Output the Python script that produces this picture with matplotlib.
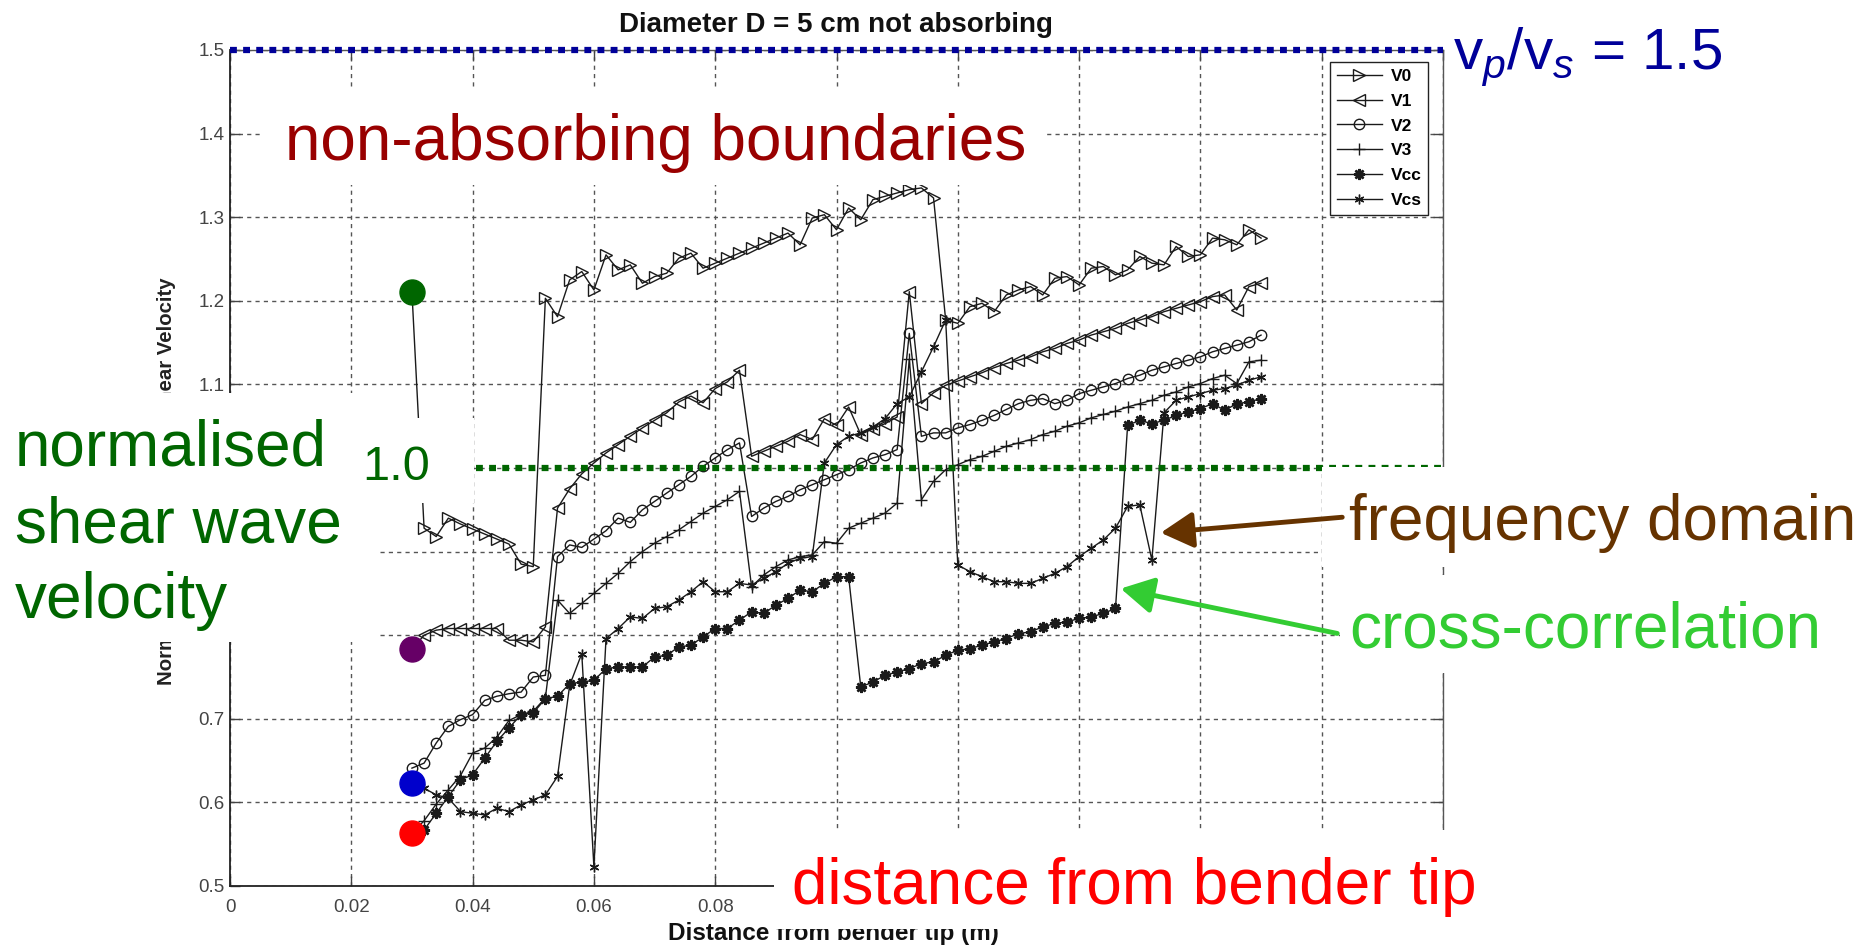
import matplotlib
matplotlib.use('Agg')
import matplotlib.pyplot as plt
import numpy as np
from matplotlib.patches import Rectangle, FancyArrowPatch

plt.rcParams['font.family'] = ['Liberation Sans', 'DejaVu Sans']
plt.rcParams['mathtext.fontset'] = 'custom'
plt.rcParams['mathtext.rm'] = 'Liberation Sans'
plt.rcParams['mathtext.it'] = 'Liberation Sans:italic'

W, H = 1875, 946

# distance from bender tip (m), one reading every 2 mm from 30 mm to 170 mm
dist = np.linspace(0.030, 0.170, 71)

V0 = [1.210, 0.928, 0.918, 0.940, 0.933, 0.927, 0.921, 0.915, 0.909, 0.885,
      0.882, 1.203, 1.181, 1.225, 1.235, 1.213, 1.255, 1.237, 1.243, 1.221,
      1.229, 1.233, 1.251, 1.257, 1.239, 1.245, 1.251, 1.257, 1.263, 1.269,
      1.275, 1.281, 1.267, 1.299, 1.303, 1.285, 1.311, 1.297, 1.321, 1.325,
      1.329, 1.333, 1.335, 1.323, 1.177, 1.173, 1.193, 1.197, 1.187, 1.207,
      1.213, 1.217, 1.207, 1.227, 1.229, 1.219, 1.239, 1.241, 1.231, 1.237,
      1.253, 1.245, 1.243, 1.265, 1.253, 1.255, 1.275, 1.273, 1.267, 1.285,
      1.275]
V1 = [0.783, 0.800, 0.806, 0.808, 0.808, 0.808, 0.808, 0.808, 0.794, 0.794,
      0.792, 0.810, 0.952, 0.975, 0.993, 1.006, 1.018, 1.028, 1.038, 1.048,
      1.057, 1.066, 1.079, 1.086, 1.078, 1.095, 1.103, 1.117, 1.014, 1.020,
      1.026, 1.032, 1.040, 1.034, 1.059, 1.051, 1.073, 1.040, 1.047, 1.053,
      1.061, 1.211, 1.077, 1.090, 1.099, 1.104, 1.109, 1.114, 1.120, 1.125,
      1.129, 1.133, 1.139, 1.143, 1.149, 1.153, 1.159, 1.163, 1.167, 1.173,
      1.177, 1.181, 1.187, 1.191, 1.195, 1.199, 1.205, 1.207, 1.189, 1.217,
      1.221]
V2 = [0.641, 0.647, 0.671, 0.691, 0.699, 0.705, 0.722, 0.727, 0.730, 0.732,
      0.750, 0.752, 0.894, 0.908, 0.905, 0.915, 0.925, 0.940, 0.935, 0.950,
      0.960, 0.970, 0.980, 0.990, 1.002, 1.012, 1.022, 1.030, 0.942, 0.952,
      0.960, 0.966, 0.974, 0.980, 0.986, 0.992, 0.998, 1.006, 1.012, 1.016,
      1.022, 1.161, 1.038, 1.042, 1.042, 1.048, 1.052, 1.057, 1.063, 1.070,
      1.077, 1.081, 1.083, 1.077, 1.081, 1.089, 1.093, 1.097, 1.101, 1.107,
      1.111, 1.117, 1.121, 1.125, 1.129, 1.133, 1.139, 1.143, 1.147, 1.151,
      1.159]
V3 = [0.563, 0.578, 0.598, 0.615, 0.632, 0.659, 0.665, 0.678, 0.698, 0.705,
      0.709, 0.725, 0.842, 0.826, 0.838, 0.850, 0.862, 0.874, 0.888, 0.900,
      0.910, 0.918, 0.926, 0.936, 0.946, 0.954, 0.962, 0.972, 0.858, 0.872,
      0.882, 0.890, 0.894, 0.896, 0.912, 0.910, 0.928, 0.934, 0.940, 0.946,
      0.958, 1.130, 0.962, 0.984, 0.998, 1.004, 1.010, 1.014, 1.020, 1.026,
      1.030, 1.034, 1.040, 1.044, 1.050, 1.054, 1.060, 1.064, 1.068, 1.073,
      1.077, 1.081, 1.087, 1.091, 1.097, 1.101, 1.107, 1.111, 1.101, 1.127,
      1.129]
Vcc = [0.563, 0.567, 0.587, 0.607, 0.627, 0.633, 0.653, 0.673, 0.689, 0.705,
       0.707, 0.724, 0.727, 0.742, 0.744, 0.746, 0.760, 0.762, 0.762, 0.762,
       0.774, 0.776, 0.786, 0.788, 0.798, 0.808, 0.808, 0.818, 0.828, 0.826,
       0.836, 0.844, 0.854, 0.852, 0.862, 0.870, 0.870, 0.738, 0.744, 0.752,
       0.756, 0.760, 0.766, 0.768, 0.776, 0.782, 0.784, 0.788, 0.792, 0.796,
       0.802, 0.804, 0.810, 0.814, 0.816, 0.820, 0.822, 0.826, 0.832, 1.051,
       1.057, 1.053, 1.057, 1.063, 1.067, 1.071, 1.077, 1.069, 1.077, 1.079,
       1.083]
Vcs = [0.623, 0.617, 0.609, 0.605, 0.589, 0.587, 0.585, 0.593, 0.589, 0.597,
       0.603, 0.609, 0.631, 0.740, 0.778, 0.523, 0.796, 0.808, 0.822, 0.820,
       0.832, 0.834, 0.842, 0.852, 0.864, 0.852, 0.852, 0.862, 0.860, 0.868,
       0.876, 0.886, 0.892, 0.894, 1.006, 1.028, 1.038, 1.042, 1.049, 1.059,
       1.077, 1.085, 1.115, 1.145, 1.177, 0.884, 0.876, 0.870, 0.864, 0.864,
       0.862, 0.862, 0.868, 0.874, 0.882, 0.894, 0.904, 0.914, 0.928, 0.954,
       0.956, 0.890, 1.066, 1.081, 1.085, 1.089, 1.093, 1.095, 1.099, 1.105,
       1.109]

series = [('V0', V0, '>', 8.5), ('V1', V1, '<', 8.5), ('V2', V2, 'o', 7.5),
          ('V3', V3, '+', 9), ('Vcc', Vcc, (8, 2, 0), 8), ('Vcs', Vcs, (6, 2, 0), 7)]


def fx(px):
    return px / W


def fy(py):
    return 1 - py / H


fig = plt.figure(figsize=(W / 100, H / 100), dpi=100)
ax = fig.add_axes([fx(230), fy(886), (1443 - 230) / W, (886 - 50) / H])

handles = []
for name, vals, mk, ms in series:
    mew = 1.8 if name == 'Vcc' else 1.0
    ln, = ax.plot(dist, vals, color='#1a1a1a', lw=1.0, marker=mk, ms=ms,
                  mfc='none', mec='#1a1a1a', mew=mew, label=name, zorder=3)
    handles.append(ln)

ax.set_xlim(0, 0.2)
ax.set_ylim(0.5, 1.5)
ax.set_xticks(np.arange(0, 0.2001, 0.02))
ax.set_xticklabels(['0', '0.02', '0.04', '0.06', '0.08', '0.1', '0.12',
                    '0.14', '0.16', '0.18', '0.2'])
ax.set_yticks(np.arange(0.5, 1.5001, 0.1))
ax.set_yticklabels(['0.5', '0.6', '0.7', '0.8', '0.9', '1', '1.1', '1.2',
                    '1.3', '1.4', '1.5'])
ax.tick_params(direction='in', length=7, width=1, colors='#444444',
               labelsize=13.5, top=True, right=True)
ax.tick_params(axis='x', pad=9)
ax.tick_params(axis='y', pad=4)
ax.grid(True, color='#555555', lw=1.0, linestyle=(0, (3, 3)))
for s in ['left', 'bottom']:
    ax.spines[s].set_color('#222222')
    ax.spines[s].set_linewidth(1.3)
for s in ['right', 'top']:
    ax.spines[s].set_color('#555555')
    ax.spines[s].set_linewidth(1.0)

ax.set_ylabel('Normalised Wave Velocity / Shear Velocity', fontsize=14.7,
              fontweight='bold', color='#222222')
ax.yaxis.set_label_coords(-(230 - 176) / 1213, (886 - 481) / 836)

leg = ax.legend(handles=handles, loc='upper right',
                bbox_to_anchor=(0.988, 0.9856),
                prop={'size': 12.5, 'weight': 'bold'}, frameon=True,
                fancybox=False, edgecolor='#222222', framealpha=1,
                borderpad=0.4, labelspacing=0.55, handlelength=2.6,
                handletextpad=0.5, borderaxespad=0)
leg.get_frame().set_linewidth(1.0)

# reference levels
ax.plot([0, 0.2], [1.5, 1.5], color='#000099', lw=4.5,
        linestyle=(0, (1.1, 1.0)), clip_on=False, zorder=6)
ax.plot([0.0405, 0.2], [1.0, 1.0], color='#006600', lw=4.5,
        linestyle=(0, (1.1, 1.0)), clip_on=False, zorder=6)

# starting values of the highlighted curves
for vals, col in [(V0, '#006600'), (V1, '#660066'), (Vcs, '#0000cc'),
                  (Vcc, '#ff0000')]:
    ax.plot(dist[0], vals[0], 'o', ms=18, color=col, zorder=8, clip_on=False)

fig.text(fx(836), fy(32), 'Diameter D = 5 cm not absorbing', ha='center',
         va='baseline', fontsize=20, fontweight='bold', color='#111111',
         zorder=1)
fig.text(fx(833), fy(940), 'Distance from bender tip (m)', ha='center',
         va='baseline', fontsize=17.5, fontweight='bold', color='#111111',
         zorder=1)

# white panels behind the slide annotations
for x0, y0, x1, y1 in [(262, 87, 1045, 185), (0, 393, 380, 642),
                       (350, 418, 474, 503), (1322, 467, W, 567),
                       (1340, 575, W, 673), (774, 830, 1520, 929)]:
    fig.add_artist(Rectangle((fx(x0), fy(y1)), (x1 - x0) / W, (y1 - y0) / H,
                             transform=fig.transFigure, facecolor='white',
                             edgecolor='none', zorder=2))

fig.text(fx(1453), fy(69), r'v$_{p}$/v$_{s}$ = 1.5', fontsize=42,
         color='#000099', va='baseline', zorder=4)
fig.text(fx(285), fy(160), 'non-absorbing boundaries', fontsize=46,
         color='#990000', va='baseline', zorder=4)
for line, base in [('normalised', 465), ('shear wave', 542), ('velocity', 618)]:
    fig.text(fx(15), fy(base), line, fontsize=46, color='#006600',
             va='baseline', zorder=4)
fig.text(fx(362), fy(480), '1.0', fontsize=35, color='#006600',
         va='baseline', zorder=4)
fig.text(fx(1349), fy(540), 'frequency domain', fontsize=46,
         color='#663300', va='baseline', zorder=4)
fig.text(fx(1349), fy(648), 'cross-correlation', fontsize=46,
         color='#33cc33', va='baseline', zorder=4)
fig.text(fx(792), fy(904), 'distance from bender tip', fontsize=46,
         color='#ff0000', va='baseline', zorder=4)

for (x0, y0), (x1, y1), col in [((1345, 517), (1158, 533), '#663300'),
                                ((1340, 634), (1118, 588), '#33cc33')]:
    fig.add_artist(FancyArrowPatch((fx(x0), fy(y0)), (fx(x1), fy(y1)),
                                   transform=fig.transFigure,
                                   arrowstyle='-|>,head_length=0.9,head_width=0.5',
                                   mutation_scale=22, lw=3.5, color=col,
                                   zorder=4))

fig.savefig('out.png', dpi=100)
